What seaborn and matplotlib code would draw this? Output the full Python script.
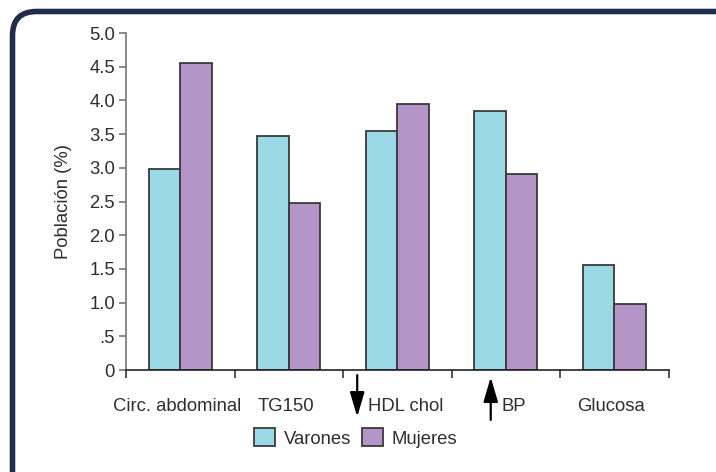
import pandas as pd
import matplotlib.pyplot as plt
import seaborn as sns
from matplotlib.patches import FancyBboxPatch

# datos
categorias = ['Circ. abdominal', 'TG150', 'HDL chol', 'BP', 'Glucosa']
varones = [2.98, 3.47, 3.54, 3.84, 1.56]
mujeres = [4.55, 2.48, 3.95, 2.91, 0.98]
grupos = ['Varones', 'Mujeres']
colores = ['#9bd9e6', '#b595c8']
yticks = [0, 0.5, 1.0, 1.5, 2.0, 2.5, 3.0, 3.5, 4.0, 4.5, 5.0]
ytick_labels = ['0', '.5', '1.0', '1.5', '2.0', '2.5', '3.0', '3.5', '4.0', '4.5', '5.0']
# flechas: None, 'down' o 'up'
flechas = [None, None, 'down', 'up', None]

df = pd.DataFrame({
    'Categoria': categorias * 2,
    'Grupo': ['Varones'] * len(categorias) + ['Mujeres'] * len(categorias),
    'Valor': varones + mujeres,
})

sns.set_style('ticks')
plt.rcParams['font.family'] = ['Liberation Sans', 'DejaVu Sans']
texto = '#2e2e2e'
fs = 13.3

fig = plt.figure(figsize=(7.16, 4.72), dpi=100)
ax = fig.add_axes([0.176, 0.216, 0.758, 0.714])

sns.barplot(data=df, x='Categoria', y='Valor', hue='Grupo', hue_order=grupos,
            palette=colores, width=0.58, edgecolor='#3a3a3a', linewidth=1.3,
            saturation=1, ax=ax, legend=False)

ax.set_ylim(0, 5)
ax.set_xlim(-0.5, len(categorias) - 0.5)
ax.set_yticks(yticks)
ax.set_yticklabels(ytick_labels, fontsize=fs, color=texto)
ax.set_xticks([i - 0.5 for i in range(len(categorias) + 1)])
ax.set_xticklabels([])
ax.tick_params(axis='y', length=5, width=1.2, color='#777777', pad=3)
ax.tick_params(axis='x', length=6, width=1.2, color='#333333')
ax.set_xlabel('')
ax.set_ylabel('Población (%)', fontsize=fs, color=texto, labelpad=12)
sns.despine(ax=ax)
ax.spines['left'].set_color('#777777')
ax.spines['left'].set_linewidth(1.2)
ax.spines['bottom'].set_color('#222222')
ax.spines['bottom'].set_linewidth(1.2)

# etiquetas de categoria con flechas
estilo = '-|>,head_length=0.75,head_width=0.22'
for i, (cat, fl) in enumerate(zip(categorias, flechas)):
    if fl is None:
        ax.text(i - 0.03, -0.107, cat, transform=ax.get_xaxis_transform(),
                ha='center', va='center', fontsize=fs, color=texto)
    else:
        xa = i - 0.37 if fl == 'down' else i - 0.14
        y0, y1 = (-0.015, -0.139) if fl == 'down' else (-0.148, -0.021)
        ax.annotate('', xy=(xa, y1), xytext=(xa, y0),
                    xycoords=ax.get_xaxis_transform(),
                    textcoords=ax.get_xaxis_transform(),
                    arrowprops=dict(arrowstyle=estilo, color='black', lw=1.6,
                                    mutation_scale=20, shrinkA=0, shrinkB=0),
                    annotation_clip=False)
        ax.text(xa + 0.1, -0.107, cat, transform=ax.get_xaxis_transform(),
                ha='left', va='center', fontsize=fs, color=texto)

# leyenda
handles = [plt.Rectangle((0, 0), 1, 1, facecolor=c, edgecolor='#3a3a3a', lw=1.3)
           for c in colores]
leg = fig.legend(handles, grupos, loc='center', bbox_to_anchor=(0.497, 0.072),
                 ncol=2, frameon=False, fontsize=fs, handlelength=1.1,
                 handleheight=1.1, handletextpad=0.5, columnspacing=0.6)
for t in leg.get_texts():
    t.set_color(texto)

# marco redondeado
marco = FancyBboxPatch((0.125, -0.3), 7.3, 4.605 + 0.3,
                       boxstyle='round,pad=0,rounding_size=0.24',
                       transform=fig.dpi_scale_trans, facecolor='none',
                       edgecolor='#1f2c4b', linewidth=4.0, clip_on=False)
fig.add_artist(marco)

plt.savefig('out.png', dpi=100)
